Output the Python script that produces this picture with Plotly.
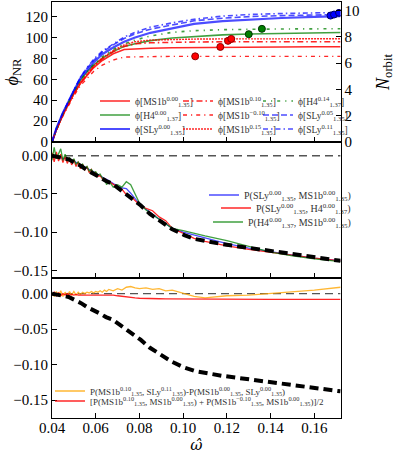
import numpy as np
import plotly.graph_objects as go
from plotly.subplots import make_subplots

# ---- top panel: accumulated phase vs frequency ----
omega = [0.040, 0.042, 0.045, 0.048, 0.050, 0.053, 0.056, 0.059, 0.063, 0.068,
         0.073, 0.078, 0.085, 0.095, 0.105, 0.118, 0.130, 0.145, 0.160, 0.172]

phi_ms1b_000 = [0, 11.5, 26, 38.5, 46, 56, 64, 71, 78, 84.5,
                88.5, 89.3, 89.8, 90.2, 90.5, 90.8, 91, 91, 91.1, 91.2]
phi_h4_000 = [0, 12, 27, 40, 48, 59, 67, 73.5, 80, 86.5,
              91.5, 94, 97, 99.5, 101, 102.5, 103.3, 104, 104.5, 104.8]
phi_sly_000 = [0, 13, 28, 41, 49, 61, 69, 76, 84, 90.5,
               96, 100, 104.5, 109, 113, 115.7, 117.3, 118.7, 119.7, 120.5]
phi_ms1b_010 = [0, 11.5, 26, 38.5, 46, 56.5, 64.5, 72, 79.5, 86.5,
                91.5, 94, 95, 95.5, 95.7, 95.9, 96, 96, 96, 96]
phi_ms1b_m010 = [0, 11, 25, 37, 44, 54, 61, 67.5, 73.5, 78.5,
                 81.3, 81.6, 81.8, 82, 82, 82, 82, 82, 82, 82]
phi_ms1b_015 = [0, 11.5, 26, 38.5, 46.5, 57, 65, 72.5, 80.5, 87.5,
                93, 96, 97.5, 98.2, 98.5, 98.7, 98.8, 98.8, 98.8, 98.8]
phi_h4_014 = [0, 12, 27, 40, 48, 59, 67.5, 74, 81.5, 88.5,
              94, 97.5, 101.5, 105, 106.5, 107.5, 108, 108.2, 108.3, 108.4]
phi_sly_005 = [0, 13, 28, 41, 50, 62, 70.5, 78, 86, 93,
               99, 103.5, 108, 112, 116, 118.5, 120, 121, 121.5, 122]
phi_sly_011 = [0, 13, 28, 41, 50, 62, 71, 79, 87, 94,
               100.5, 105, 110, 114, 117.5, 120.5, 122, 123, 123.5, 124]

# merger points, same order as the curves above
merger_omega = [0.117, 0.130, 0.1674, 0.1205, 0.1055, 0.122, 0.136, 0.169, 0.1713]
merger_phi = [91, 103.2, 121, 96.8, 82, 98.7, 108.3, 122, 123.6]

# ---- middle / bottom panels ----
omega_p = [0.040, 0.041, 0.042, 0.043, 0.044, 0.045, 0.046, 0.047, 0.048, 0.049,
           0.050, 0.051, 0.052, 0.053, 0.054, 0.055, 0.056, 0.057, 0.058, 0.059,
           0.060, 0.061, 0.062, 0.063, 0.064, 0.065, 0.066, 0.068, 0.070, 0.072,
           0.074, 0.076, 0.078, 0.080, 0.083, 0.086, 0.089, 0.092, 0.095, 0.100,
           0.105, 0.110, 0.120, 0.130, 0.140, 0.150, 0.160, 0.172]

p_sly_ms1b = [0.000, -0.001, 0.001, -0.003, -0.002, -0.004, -0.003, -0.005, -0.005, -0.007,
              -0.007, -0.009, -0.010, -0.012, -0.013, -0.015, -0.016, -0.018, -0.019, -0.021,
              -0.023, -0.025, -0.027, -0.028, -0.030, -0.031, -0.033, -0.036, -0.040, -0.042,
              -0.043, -0.049, -0.056, -0.063, -0.070, -0.077, -0.083, -0.089, -0.095, -0.100,
              -0.104, -0.108, -0.115, -0.121, -0.126, -0.130, -0.134, -0.1375]
p_sly_h4 = [0.004, -0.008, 0.005, -0.007, 0.002, -0.009, -0.001, -0.010, -0.003, -0.012,
            -0.005, -0.014, -0.008, -0.017, -0.011, -0.019, -0.014, -0.022, -0.018, -0.024,
            -0.022, -0.027, -0.026, -0.030, -0.030, -0.032, -0.034, -0.037, -0.041, -0.044,
            -0.051, -0.053, -0.059, -0.064, -0.069, -0.072, -0.080, -0.085, -0.095, -0.102,
            -0.108, -0.112, -0.118, -0.1225, -0.1265, -0.130, -0.134, -0.1375]
p_h4_ms1b = [-0.006, 0.011, -0.004, 0.002, 0.009, -0.006, 0.002, -0.007, -0.002, -0.008,
             -0.004, -0.011, -0.008, -0.014, -0.011, -0.017, -0.014, -0.020, -0.018, -0.022,
             -0.021, -0.025, -0.024, -0.029, -0.031, -0.038, -0.033, -0.041, -0.038, -0.041,
             -0.034, -0.038, -0.050, -0.062, -0.071, -0.077, -0.084, -0.090, -0.095, -0.098,
             -0.102, -0.105, -0.111, -0.119, -0.126, -0.131, -0.135, -0.1385]

p_spin_sly = [0.001, -0.004, 0.003, -0.003, 0.004, -0.004, 0.002, -0.003, 0.003, -0.002,
              0.003, -0.002, 0.002, -0.001, 0.002, 0.000, 0.002, 0.001, 0.003, 0.001,
              0.003, 0.002, 0.004, 0.002, 0.005, 0.003, 0.006, 0.004, 0.007, 0.005,
              0.009, 0.010, 0.008, 0.007, 0.008, 0.006, 0.007, 0.004, 0.005, 0.000,
              -0.004, -0.006, -0.003, -0.002, 0.000, 0.002, 0.005, 0.009]
p_spin_ms1b = [-0.002, 0.002, -0.003, 0.001, -0.003, 0.000, -0.002, 0.000, -0.002, -0.001,
               -0.002, -0.001, -0.002, -0.002, -0.001, -0.002, -0.001, -0.001, -0.002, -0.001,
               -0.001, -0.001, -0.002, -0.002, -0.002, -0.002, -0.002, -0.002, -0.003, -0.004,
               -0.005, -0.0055, -0.006, -0.0065, -0.007, -0.007, -0.0072, -0.0074, -0.0075, -0.0076,
               -0.0078, -0.0078, -0.008, -0.008, -0.008, -0.008, -0.008, -0.008]

fit_omega = [0.040, 0.0476, 0.0533, 0.0561, 0.0618, 0.0647, 0.0676, 0.0719, 0.0762, 0.0805,
             0.0848, 0.0898, 0.0948, 0.1005, 0.1055, 0.1176, 0.132, 0.1434, 0.1549, 0.1606, 0.172]
fit_p = [0, -0.0047, -0.0134, -0.019, -0.0278, -0.033, -0.0365, -0.046, -0.056, -0.0648,
         -0.0762, -0.0866, -0.0958, -0.1039, -0.109, -0.1155, -0.121, -0.126, -0.1305, -0.1325, -0.1375]

RED = "rgba(255,0,0,0.85)"
GREEN = "rgba(0,128,0,0.75)"
BLUE = "rgba(0,0,255,0.7)"
SOLID = {RED: "#ff0000", GREEN: "#008000", BLUE: "#0000ff"}
EDGE = {RED: "#8b0000", GREEN: "#003300", BLUE: "#000066"}
FONT = "Liberation Serif"

fig = make_subplots(rows=3, cols=1, shared_xaxes=True, vertical_spacing=0,
                    row_heights=[140, 136, 140],
                    specs=[[{"secondary_y": True}], [{}], [{}]])


def px_x(p):
    return (p - 52) / 307


def px_y(p):
    return (418 - p) / 416


legends = {}


def add_legend(key, x, y, size=10, anchor="left"):
    legends[key] = dict(bgcolor="rgba(0,0,0,0)", borderwidth=0, itemwidth=30,
                        xanchor=anchor, yanchor="middle", x=px_x(x), y=px_y(y),
                        font=dict(family=FONT, size=size, color="#333333"))


# (label, data, colour, dash, width, legend x, legend y)
curves = [
    ("ϕ[MS1b<sup>0.00</sup><sub>1.35</sub>]", phi_ms1b_000, RED, "solid", 1.6, 95, 101),
    ("ϕ[H4<sup>0.00</sup><sub>1.37</sub>]", phi_h4_000, GREEN, "solid", 1.6, 95, 115),
    ("ϕ[SLy<sup>0.00</sup><sub>1.35</sub>]", phi_sly_000, BLUE, "solid", 2.2, 95, 129),
    ("ϕ[MS1b<sup>0.10</sup><sub>1.35</sub>]", phi_ms1b_010, RED, "6px,3px,1.5px,3px", 1.6, 178, 101),
    ("ϕ[MS1b<sup>−0.10</sup><sub>1.35</sub>]", phi_ms1b_m010, RED, "4px,4px,1.2px,4px", 1.4, 178, 115),
    ("ϕ[MS1b<sup>0.15</sup><sub>1.35</sub>]", phi_ms1b_015, RED, "2px,1px", 1.4, 178, 129),
    ("ϕ[H4<sup>0.14</sup><sub>1.37</sub>]", phi_h4_014, GREEN, "3px,5px,1.2px,5px", 1.6, 258, 101),
    ("ϕ[SLy<sup>0.05</sup><sub>1.35</sub>]", phi_sly_005, BLUE, "6px,3px", 1.6, 258, 115),
    ("ϕ[SLy<sup>0.11</sup><sub>1.35</sub>]", phi_sly_011, BLUE, "5px,3px,1.5px,3px", 1.6, 258, 129),
]

for i, (name, vals, col, dash, w, lx, ly) in enumerate(curves):
    key = "legend" if i == 0 else f"legend{i + 1}"
    add_legend(key, lx, ly, size=9.5)
    fig.add_trace(go.Scatter(x=omega, y=vals, mode="lines", name=name, legend=key,
                             line=dict(color=col, dash=dash, width=w)),
                  row=1, col=1, secondary_y=False)
for i, (name, vals, col, dash, w, lx, ly) in enumerate(curves):
    fig.add_trace(go.Scatter(x=[merger_omega[i]], y=[merger_phi[i]], mode="markers",
                             showlegend=False,
                             marker=dict(size=7, color=SOLID[col],
                                         line=dict(color=EDGE[col], width=1))),
                  row=1, col=1, secondary_y=False)

# N_orbit axis (phase / 4 pi)
fig.add_trace(go.Scatter(x=omega, y=np.array(phi_sly_000) / (4 * np.pi), mode="lines",
                         opacity=0, showlegend=False, hoverinfo="skip"),
              row=1, col=1, secondary_y=True)

# ---- zero lines ----
for row in (2, 3):
    fig.add_trace(go.Scatter(x=[0.04, 0.172], y=[0, 0], mode="lines", showlegend=False,
                             line=dict(color="#555555", dash="8px,5px", width=1.3)),
                  row=row, col=1)

# ---- middle panel ----
mid = [
    ("P(SLy<sup>0.00</sup><sub>1.35</sub>, MS1b<sup>0.00</sup><sub>1.35</sub>)", p_sly_ms1b, BLUE, 195),
    ("P(SLy<sup>0.00</sup><sub>1.35</sub>, H4<sup>0.00</sup><sub>1.37</sub>)", p_sly_h4, RED, 208),
    ("P(H4<sup>0.00</sup><sub>1.37</sub>, MS1b<sup>0.00</sup><sub>1.35</sub>)", p_h4_ms1b, GREEN, 222),
]
for j, (name, vals, col, ly) in enumerate(mid):
    key = f"legend{10 + j}"
    add_legend(key, 356, ly, anchor="right")
    fig.add_trace(go.Scatter(x=omega_p, y=vals, mode="lines", name=name, legend=key,
                             line=dict(color=col, width=1.3)), row=2, col=1)

fig.add_trace(go.Scatter(x=fit_omega, y=fit_p, mode="lines", showlegend=False,
                         line=dict(color="black", dash="9px,5px", width=4)), row=2, col=1)

# ---- bottom panel ----
add_legend("legend13", 50, 391, size=9)
add_legend("legend14", 50, 401, size=9)
fig.add_trace(go.Scatter(x=omega_p, y=p_spin_sly, mode="lines", legend="legend13",
                         name="P(MS1b<sup>0.10</sup><sub>1.35</sub>, SLy<sup>0.11</sup><sub>1.35</sub>)"
                              "-P(MS1b<sup>0.00</sup><sub>1.35</sub>, SLy<sup>0.00</sup><sub>1.35</sub>)",
                         line=dict(color="rgba(255,165,0,0.8)", width=1.3)), row=3, col=1)
fig.add_trace(go.Scatter(x=omega_p, y=p_spin_ms1b, mode="lines", legend="legend14",
                         name="[P(MS1b<sup>0.10</sup><sub>1.35</sub>, MS1b<sup>0.00</sup><sub>1.35</sub>)"
                              " + P(MS1b<sup>−0.10</sup><sub>1.35</sub>, MS1b<sup>0.00</sup><sub>1.35</sub>)]/2",
                         line=dict(color=RED, width=1.3)), row=3, col=1)
fig.add_trace(go.Scatter(x=fit_omega, y=fit_p, mode="lines", showlegend=False,
                         line=dict(color="black", dash="9px,5px", width=4)), row=3, col=1)

axis_style = dict(showline=True, linecolor="black", linewidth=1, mirror=True,
                  ticks="inside", ticklen=5, tickcolor="black", showgrid=False,
                  zeroline=False, automargin=False,
                  tickfont=dict(family=FONT, size=15, color="black"))

fig.update_xaxes(**axis_style, range=[0.04, 0.172], dtick=0.02, tick0=0.04, tickformat=".2f")
fig.update_xaxes(title=dict(text="<i>ω̂</i>", font=dict(family="DejaVu Serif", size=15), standoff=0),
                 ticklabelstandoff=-4, row=3, col=1)
fig.update_yaxes(**axis_style)
fig.update_yaxes(range=[0, 134], dtick=20, mirror=False, row=1, col=1, secondary_y=False,
                 title=dict(text="<i>ϕ</i><sub>NR</sub>", font=dict(family=FONT, size=18), standoff=2))
fig.update_yaxes(range=[0, 134 / (4 * np.pi)], dtick=2, mirror=False, row=1, col=1,
                 secondary_y=True,
                 title=dict(text="<i>N</i><sub>orbit</sub>", font=dict(family=FONT, size=18), standoff=17))
fig.update_yaxes(range=[-0.16, 0.018], dtick=0.05, tick0=0, tickformat=".2f", row=2, col=1)
fig.update_yaxes(range=[-0.175, 0.022], dtick=0.05, tick0=0, tickformat=".2f", row=3, col=1)

fig.update_layout(
    width=399, height=457,
    margin=dict(l=52, r=40, t=2, b=39, autoexpand=False),
    paper_bgcolor="white", plot_bgcolor="white",
    font=dict(family=FONT, color="black"),
    showlegend=True,
    **legends,
)

# drop the default page margin so the figure sits at the window corner
fig.write_html("out.html", config={"displayModeBar": False},
               post_script="document.body.style.margin='0';")
